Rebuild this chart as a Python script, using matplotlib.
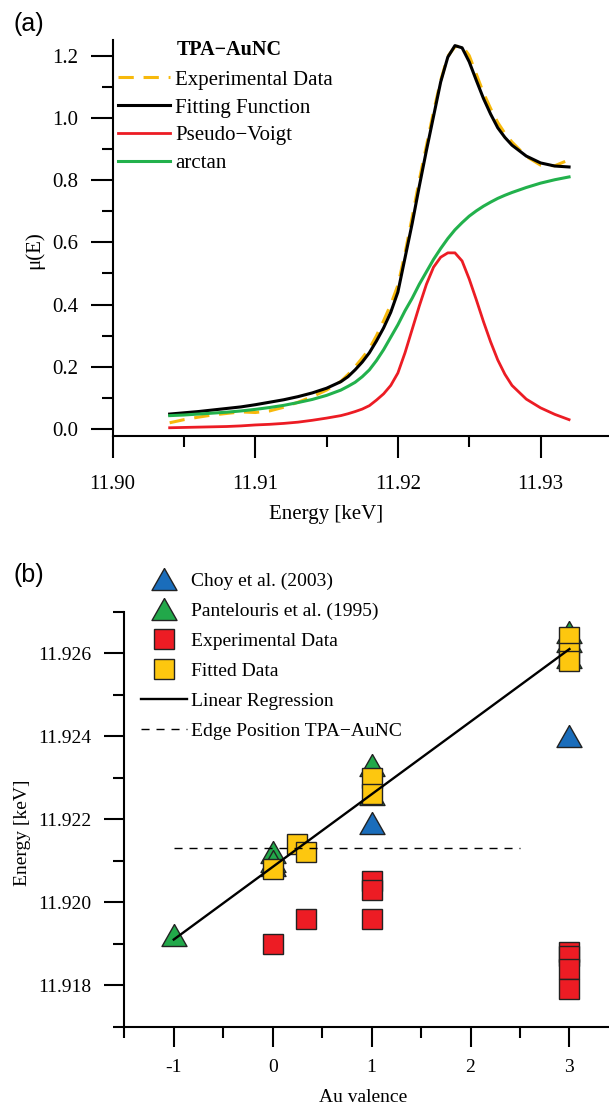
import matplotlib
matplotlib.use("Agg")
from matplotlib import pyplot as plt
from matplotlib.ticker import MultipleLocator, FormatStrFormatter

plt.rcParams['font.family'] = ['Liberation Serif', 'DejaVu Serif']
plt.rcParams['axes.unicode_minus'] = False

# ---- panel (a): XANES fit of TPA-AuNC ----
energy = [11.904, 11.905, 11.906, 11.907, 11.908, 11.909, 11.910, 11.911, 11.912, 11.913,
          11.914, 11.915, 11.916, 11.9165, 11.917, 11.9175, 11.918, 11.9185, 11.919, 11.9195,
          11.920, 11.9205, 11.921, 11.9215, 11.922, 11.9225, 11.923, 11.9235, 11.924, 11.9245,
          11.925, 11.9255, 11.926, 11.9265, 11.927, 11.9275, 11.928, 11.929, 11.930, 11.931,
          11.932]
mu_exp = [0.020, 0.030, 0.038, 0.045, 0.050, 0.055, 0.053, 0.058, 0.070, 0.086,
          0.104, 0.125, 0.153, 0.175, 0.200, 0.228, 0.258, 0.300, 0.348, 0.400,
          0.462, 0.565, 0.680, 0.800, 0.910, 1.020, 1.120, 1.198, 1.228, 1.232,
          1.200, 1.140, 1.080, 1.030, 0.985, 0.950, 0.922, 0.876, 0.848, 0.846,
          0.865]
mu_fit = [0.048, 0.052, 0.056, 0.061, 0.066, 0.071, 0.078, 0.086, 0.094, 0.104,
          0.116, 0.131, 0.152, 0.168, 0.190, 0.215, 0.245, 0.283, 0.325, 0.375,
          0.440, 0.550, 0.660, 0.780, 0.895, 1.005, 1.115, 1.195, 1.232, 1.225,
          1.180, 1.120, 1.062, 1.012, 0.968, 0.937, 0.912, 0.877, 0.855, 0.845,
          0.842]
mu_pv = [0.004, 0.005, 0.006, 0.007, 0.008, 0.010, 0.013, 0.015, 0.018, 0.022,
         0.028, 0.035, 0.043, 0.049, 0.056, 0.064, 0.075, 0.093, 0.113, 0.140,
         0.180, 0.245, 0.320, 0.395, 0.465, 0.520, 0.552, 0.566, 0.566, 0.540,
         0.482, 0.415, 0.345, 0.280, 0.222, 0.176, 0.140, 0.096, 0.068, 0.047,
         0.030]
mu_atan = [0.043, 0.045, 0.048, 0.051, 0.054, 0.058, 0.063, 0.069, 0.076, 0.085,
           0.095, 0.108, 0.125, 0.137, 0.150, 0.168, 0.190, 0.220, 0.255, 0.295,
           0.335, 0.380, 0.420, 0.465, 0.505, 0.545, 0.580, 0.612, 0.640, 0.663,
           0.684, 0.701, 0.716, 0.729, 0.741, 0.751, 0.760, 0.776, 0.790, 0.801,
           0.810]

# ---- panel (b): edge position vs Au valence ----
choy_val = [0, 1, 3]
choy_e = [11.9209, 11.9219, 11.9240]
pant_val = [-1, 0, 0, 1, 1, 3, 3, 3]
pant_e = [11.9192, 11.9212, 11.9210, 11.9233, 11.9226, 11.9265, 11.9263, 11.9259]
exp_val = [0, 0.333, 1, 1, 1, 3, 3, 3, 3]
exp_e = [11.9190, 11.9196, 11.9205, 11.9203, 11.9196, 11.9188, 11.9187, 11.9184, 11.9179]
fit_val = [0, 0.25, 0.333, 1, 1, 3, 3, 3]
fit_e = [11.9208, 11.9214, 11.9212, 11.9230, 11.9226, 11.9264, 11.9260, 11.9258]
reg_val = [-1, 3]
reg_e = [11.9191, 11.9261]
edge_val = [-1, 2.5]
edge_e = [11.9213, 11.9213]

W, H = 609, 1105
fig = plt.figure(figsize=(W / 100, H / 100), dpi=100)


def fx(px):
    return px / W


def fy(py):
    return 1 - py / H


def style_axes(ax, fs, major, minor):
    for s in ('top', 'right'):
        ax.spines[s].set_visible(False)
    for s in ('left', 'bottom'):
        ax.spines[s].set_linewidth(1.5)
    ax.tick_params(which='major', direction='out', length=major, width=1.5, labelsize=fs, pad=9)
    ax.tick_params(which='minor', direction='out', length=minor, width=1.5)


# (a)
ax1 = fig.add_axes([fx(112.6), fy(436), 1 - fx(112.6), (436 - 40) / H])
style_axes(ax1, 15, 16, 8)
ax1.tick_params(axis='x', which='major', pad=12)
ax1.plot(energy, mu_exp, color='#f7b90c', lw=2.2, ls=(0, (5, 3.2)), label='Experimental Data')
ax1.plot(energy, mu_fit, color='black', lw=2.2, label='Fitting Function')
ax1.plot(energy, mu_pv, color='#ec1c24', lw=2.0, label='Pseudo\u2212Voigt')
ax1.plot(energy, mu_atan, color='#22b14c', lw=2.2, label='arctan')
ax1.set_xlim(11.90, 11.9348)
ax1.set_ylim(-0.0225, 1.25)
ax1.xaxis.set_major_locator(MultipleLocator(0.01))
ax1.xaxis.set_minor_locator(MultipleLocator(0.005))
ax1.xaxis.set_major_formatter(FormatStrFormatter('%.2f'))
ax1.yaxis.set_major_locator(MultipleLocator(0.2))
ax1.yaxis.set_minor_locator(MultipleLocator(0.1))
ax1.yaxis.set_major_formatter(FormatStrFormatter('%.1f'))
ax1.set_xlabel('Energy [keV]', fontsize=15)
ax1.set_ylabel('\u03bc(E)', fontsize=15)
ax1.xaxis.set_label_coords(0.43, -0.174)
ax1.yaxis.set_label_coords(-0.137, 0.47)
ax1.legend(loc='upper left', bbox_to_anchor=(fx(118), fy(70)), bbox_transform=fig.transFigure,
           frameon=False, fontsize=15, handlelength=2.5, handletextpad=0.25,
           labelspacing=0.4, borderpad=0, borderaxespad=0)
fig.text(fx(177), fy(50), 'TPA\u2212AuNC', fontsize=14.5, fontweight='bold', va='center', ha='left')
fig.text(fx(13), fy(24), '(a)', fontsize=18, family='Liberation Sans', va='center', ha='left')

# (b)
tri = [(0, 0.88), (-1, -0.88), (1, -0.88), (0, 0.88)]
mk = dict(ls='none', mec='#222222', mew=1.0)
ax2 = fig.add_axes([fx(124.3), fy(1026.7), 1 - fx(124.3), (1026.7 - 611.7) / H])
style_axes(ax2, 14, 14.4, 7.6)
ax2.plot(choy_val, choy_e, marker=tri, ms=18, mfc='#1a6dbb', label='Choy et al. (2003)', **mk)
ax2.plot(pant_val, pant_e, marker=tri, ms=18, mfc='#22a84a', label='Pantelouris et al. (1995)', **mk)
ax2.plot(exp_val, exp_e, marker='s', ms=14, mfc='#ed1c24', label='Experimental Data', **mk)
ax2.plot(fit_val, fit_e, marker='s', ms=14, mfc='#fdc70f', label='Fitted Data', **mk)
ax2.plot(reg_val, reg_e, color='black', lw=1.7, label='Linear Regression')
ax2.plot(edge_val, edge_e, color='black', lw=1.0, ls=(0, (5.8, 5)), label='Edge Position TPA\u2212AuNC')
ax2.set_xlim(-1.5, 3.4)
ax2.set_ylim(11.917, 11.927)
ax2.xaxis.set_major_locator(MultipleLocator(1))
ax2.xaxis.set_minor_locator(MultipleLocator(0.5))
ax2.xaxis.set_major_formatter(FormatStrFormatter('%d'))
ax2.yaxis.set_major_locator(MultipleLocator(0.002))
ax2.yaxis.set_minor_locator(MultipleLocator(0.001))
ax2.yaxis.set_major_formatter(FormatStrFormatter('%.3f'))
ax2.set_xlabel('Au valence', fontsize=14)
ax2.set_ylabel('Energy [keV]', fontsize=14)
ax2.xaxis.set_label_coords(0.4925, -0.151)
ax2.yaxis.set_label_coords(-0.1935, 0.4667)
ax2.legend(loc='upper left', bbox_to_anchor=(fx(140.7), fy(572)), bbox_transform=fig.transFigure,
           frameon=False, fontsize=14, numpoints=1, handlelength=2.37, handletextpad=0.2,
           labelspacing=0.64, borderpad=0, borderaxespad=0)
fig.text(fx(13), fy(575), '(b)', fontsize=18, family='Liberation Sans', va='center', ha='left')

fig.savefig('out.png', dpi=100)
